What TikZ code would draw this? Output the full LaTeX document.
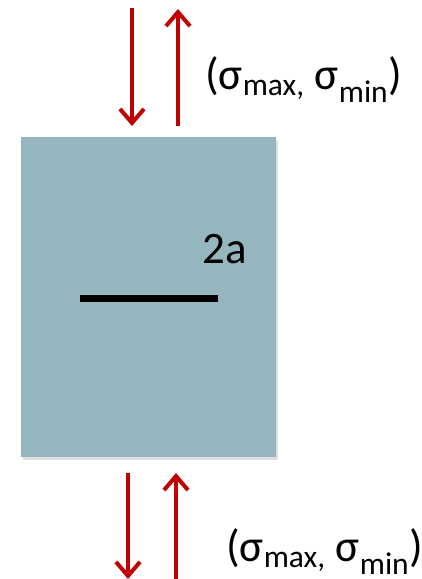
\documentclass[tikz,border=0pt]{standalone}
\usepackage{fontspec}
\setmainfont{Carlito}
\usetikzlibrary{arrows.meta,shadows}
\definecolor{plate}{RGB}{150,182,191}
\definecolor{loadred}{RGB}{192,0,0}
\tikzset{
  load/.style={draw=loadred, line width=4pt, -{Straight Barb[length=14pt,width=24pt,line width=4pt]}},
  lbl/.style={font=\fontsize{45}{50}\selectfont, inner sep=0pt, anchor=base west},
}
\begin{document}
\begin{tikzpicture}[x=1pt,y=-1pt]
\clip (0,0) rectangle (422,579);
\useasboundingbox (0,0) rectangle (422,579);
\fill[white] (0,0) rectangle (422,579);
% plate
\node[fill=plate, minimum width=255pt, minimum height=320pt, inner sep=0pt, drop shadow={shadow xshift=2pt, shadow yshift=-3pt, opacity=0.25}] (plate) at (148.5,297) {};
% crack
\coordinate (c1) at (80,298.5);
\coordinate (c2) at (218,298.5);
\draw[line width=7.5pt] (c1) -- (c2);
\node[lbl] (twoa) at (202,263) {2a};
% top arrows
\coordinate (td0) at (132,8);
\coordinate (td1) at (132,126);
\coordinate (tu0) at (178,126);
\coordinate (tu1) at (178,9);
\draw[load] (td0) -- (td1);
\draw[load] (tu0) -- (tu1);
\node[lbl] (toplabel) at (205,89) {(σ\textsubscript{max,} σ\textsubscript{min})};
% bottom arrows
\coordinate (bd0) at (128,473);
\coordinate (bd1) at (128,579);
\coordinate (bu0) at (176,584);
\coordinate (bu1) at (176,473);
\draw[load] (bd0) -- (bd1);
\draw[load] (bu0) -- (bu1);
\node[lbl] (botlabel) at (226,561) {(σ\textsubscript{max,} σ\textsubscript{min})};
\end{tikzpicture}
\end{document}
